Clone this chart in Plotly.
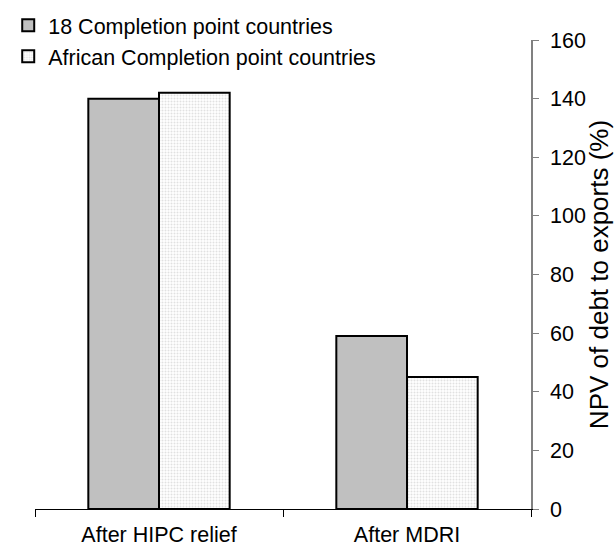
import plotly.graph_objects as go

# Debt ratios before and after MDRI
categories = ["After HIPC relief", "After MDRI"]
series_names = ["18 Completion point countries", "African Completion point countries"]
completion_18 = [140, 59]
completion_african = [142, 45]
y_ticks = [0, 20, 40, 60, 80, 100, 120, 140, 160]

FONT = "Liberation Sans, Arial, sans-serif"
FONT_SIZE = 21.5

fig = go.Figure()
fig.add_trace(go.Bar(
    x=categories, y=completion_18, name=series_names[0],
    marker=dict(color="#c0c0c0", line=dict(color="black", width=2)),
))
fig.add_trace(go.Bar(
    x=categories, y=completion_african, name=series_names[1],
    marker=dict(color="white", line=dict(color="black", width=2),
                pattern=dict(shape=".", fgcolor="#c4c4c4", bgcolor="white",
                             size=3, solidity=0.35)),
))

fig.update_layout(
    width=614, height=550,
    margin=dict(l=35, r=83, t=40, b=41, autoexpand=False),
    paper_bgcolor="white", plot_bgcolor="white",
    barmode="group", bargap=0.43, bargroupgap=0,
    font=dict(family=FONT, size=FONT_SIZE, color="black"),
    showlegend=True,
    legend=dict(x=-0.054, y=1.075, xanchor="left", yanchor="top",
                bgcolor="rgba(0,0,0,0)", itemwidth=30,
                font=dict(size=FONT_SIZE), tracegroupgap=0),
    hovermode=False,
)
fig.update_xaxes(
    automargin=False,
    showline=True, linecolor="black", linewidth=1,
    ticks="outside", ticklen=7, tickcolor="black", tickson="boundaries",
    ticklabelstandoff=6,
    showgrid=False, zeroline=False,
)
fig.update_yaxes(
    automargin=False,
    side="right", range=[0, 160], tickvals=y_ticks,
    showline=True, linecolor="#808080", linewidth=1.5,
    ticks="outside", ticklen=6, tickcolor="#808080",
    ticklabelstandoff=7,
    showgrid=False, zeroline=False,
    title=dict(text="NPV of debt to exports (%)", standoff=11),
)

fig.write_html("out.html")
